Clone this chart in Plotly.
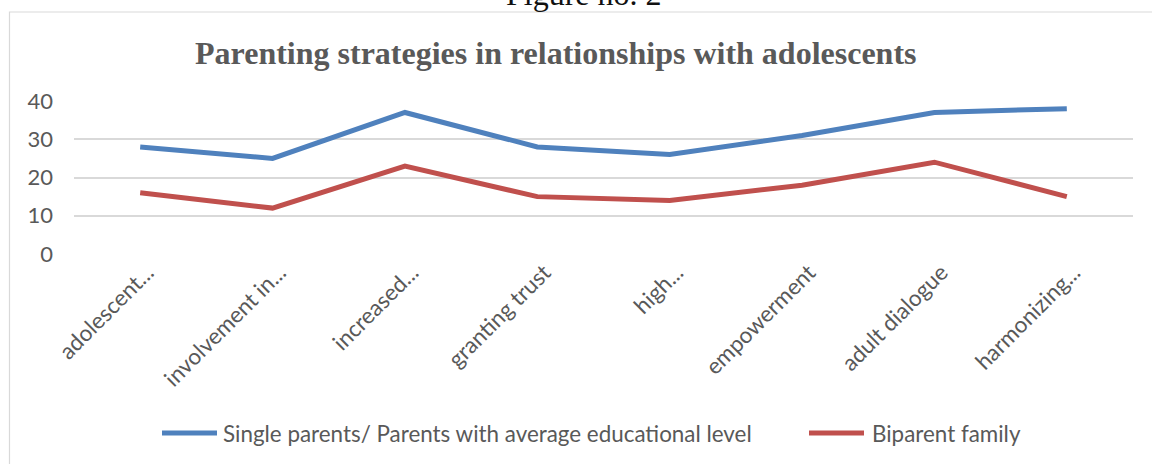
import plotly.graph_objects as go

categories = ["adolescent...", "involvement in...", "increased...", "granting trust",
              "high...", "empowerment", "adult dialogue", "harmonizing..."]
series_names = ["Single parents/ Parents with average educational level", "Biparent family"]
single_parents = [28, 25, 37, 28, 26, 31, 37, 38]
biparent = [16, 12, 23, 15, 14, 18, 24, 15]
y_ticks = [0, 10, 20, 30, 40]
colors = ["#4F81BD", "#C0504D"]

W, H = 1152, 464
L, R, T, B = 74, 1133, 101, 254  # plot area in pixels


def px(x):
    return (x - L) / (R - L)


def py(y):
    return (B - y) / (B - T)


fig = go.Figure()
for name, vals, col in zip(series_names, [single_parents, biparent], colors):
    fig.add_trace(go.Scatter(x=categories, y=vals, mode="lines", name=name,
                             line=dict(color=col, width=5), showlegend=False))

TEXT = "#595959"
FONT = "Lato, 'Open Sans', sans-serif"

fig.update_layout(
    width=W, height=H,
    margin=dict(l=L, r=W - R, t=T, b=H - B, pad=0),
    paper_bgcolor="white", plot_bgcolor="white",
    xaxis=dict(type="category", range=[-0.5, len(categories) - 0.5], showgrid=False,
               showline=False, zeroline=False, ticks="", tickangle=-45,
               ticklabelshift=7,
               tickfont=dict(family=FONT, size=22.5, color=TEXT)),
    yaxis=dict(range=[0, 40], tickvals=y_ticks, showgrid=True, gridcolor="#D9D9D9",
               gridwidth=1.5, zeroline=False, showline=False, ticks="",
               ticklabelstandoff=20,
               tickfont=dict(family=FONT, size=22, color=TEXT)),
)

# chart border
fig.add_shape(type="rect", xref="paper", yref="paper",
              x0=px(9.5), x1=px(1170), y0=py(12), y1=py(480),
              line=dict(color="#D9D9D9", width=1.2), fillcolor="rgba(0,0,0,0)", layer="below")

# caption above the chart (partly cut at the top, as in the source)
fig.add_annotation(text="Figure no. 2", xref="paper", yref="paper", x=px(584), y=py(14),
                   xanchor="center", yanchor="bottom", showarrow=False,
                   font=dict(family="Liberation Serif, Times New Roman, serif", size=32, color="#111111"))

# title
fig.add_annotation(text="<b>Parenting strategies in relationships with adolescents</b>",
                   xref="paper", yref="paper", x=px(555), y=py(53),
                   xanchor="center", yanchor="middle", showarrow=False,
                   font=dict(family="Liberation Serif, Times New Roman, serif", size=32, color=TEXT))

# legend
legend_items = [(162, 217, 221), (809, 864, 870)]
for (x0, x1, xt), name, col in zip(legend_items, series_names, colors):
    fig.add_shape(type="line", xref="paper", yref="paper", x0=px(x0), x1=px(x1),
                  y0=py(433), y1=py(433), line=dict(color=col, width=5))
    fig.add_annotation(text=name, xref="paper", yref="paper", x=px(xt), y=py(433),
                       xanchor="left", yanchor="middle", showarrow=False,
                       font=dict(family=FONT, size=22.4, color=TEXT))

fig.write_html("out.html", config={"displayModeBar": False},
               post_script="document.body.style.margin='0';document.body.style.overflow='hidden';")
